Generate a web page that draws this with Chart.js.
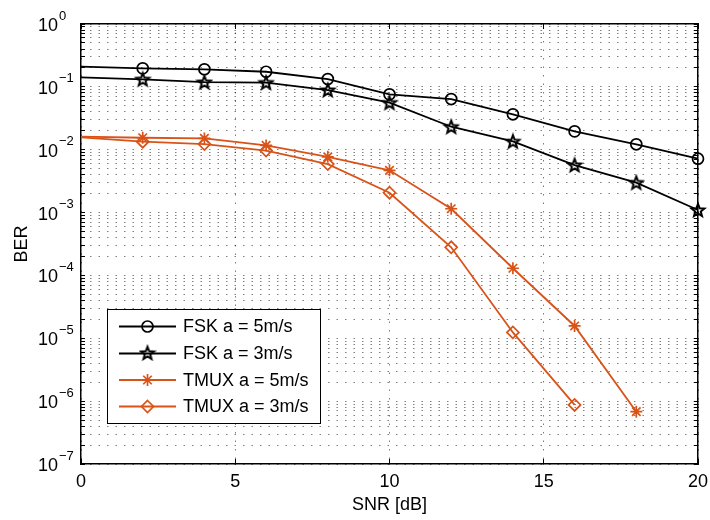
<!DOCTYPE html>
<html>
<head>
<meta charset="utf-8">
<script src="https://cdn.jsdelivr.net/npm/chart.js@4/dist/chart.umd.min.js"></script>
<style>
  html, body { margin: 0; padding: 0; background: #fff; }
  #wrap { width: 710px; height: 520px; position: relative; }
</style>
</head>
<body>
<div id="wrap"><canvas id="c"></canvas></div>
<script>
// ---- data ----
const snr = [0, 2, 4, 6, 8, 10, 12, 14, 16, 18, 20];
const fsk5 = [0.21, 0.197, 0.19, 0.174, 0.133, 0.076, 0.064, 0.0366, 0.0196, 0.0122, 0.0072];
const fsk3 = [0.142, 0.132, 0.119, 0.117, 0.089, 0.056, 0.0232, 0.0136, 0.0057, 0.0030, 0.0011];
const tmux5 = [0.0161, 0.0155, 0.0151, 0.0117, 0.0077, 0.0047, 0.00115, 0.00013, 1.57e-5, 6.8e-7];
const tmux3 = [0.0157, 0.0134, 0.0123, 0.0097, 0.0059, 0.00207, 0.00028, 1.24e-5, 8.7e-7];
const seriesLabels = ['FSK a = 5m/s', 'FSK a = 3m/s', 'TMUX a = 5m/s', 'TMUX a = 3m/s'];
const xTicks = [0, 5, 10, 15, 20];
const yDecades = [-7, -6, -5, -4, -3, -2, -1, 0];
const yMinor = [1, 2, 3, 4, 5, 6, 7, 8, 9];

const FONT = '"Liberation Sans", Arial, Helvetica, sans-serif';
const ORANGE = '#D95319';
const GRID = 'rgba(0,0,0,0.5)';

// y tick values built from decade list
const yTickValues = [];
yDecades.forEach(d => {
  if (d === 0) { yTickValues.push(1); return; }
  yMinor.forEach(m => yTickValues.push(Number((m * Math.pow(10, d)).toPrecision(6))));
});

// pentagram marker
function makePentagram(color) {
  const c = document.createElement('canvas');
  c.width = 18; c.height = 18;
  const g = c.getContext('2d');
  const R = 6.8, r = 2.9, cx = 9, cy = 9.6;
  g.beginPath();
  for (let i = 0; i < 10; i++) {
    const rad = (i % 2 === 0) ? R : r;
    const a = -Math.PI / 2 + i * Math.PI / 5;
    const px = cx + rad * Math.cos(a), py = cy + rad * Math.sin(a);
    if (i === 0) g.moveTo(px, py); else g.lineTo(px, py);
  }
  g.closePath();
  g.lineWidth = 2;
  g.strokeStyle = color;
  g.lineJoin = 'miter';
  g.stroke();
  return c;
}
const pent = makePentagram('#000');

function pts(vals) { return vals.map((v, i) => ({ x: snr[i], y: v })); }
function radii(n, r) { return Array.from({ length: n }, (_, i) => i === 0 ? 0 : r); }

const datasets = [
  { label: seriesLabels[0], data: pts(fsk5), borderColor: '#000', backgroundColor: 'rgba(0,0,0,0)',
    pointStyle: 'circle', pointRadius: radii(fsk5.length, 5.5), pointBorderColor: '#000', pointBorderWidth: 1.7 },
  { label: seriesLabels[1], data: pts(fsk3), borderColor: '#000', backgroundColor: 'rgba(0,0,0,0)',
    pointStyle: pent, pointRadius: radii(fsk3.length, 6), pointBorderColor: '#000', pointBorderWidth: 1.7 },
  { label: seriesLabels[2], data: pts(tmux5), borderColor: ORANGE, backgroundColor: 'rgba(0,0,0,0)',
    pointStyle: 'star', pointRadius: radii(tmux5.length, 6), pointBorderColor: ORANGE, pointBorderWidth: 1.7 },
  { label: seriesLabels[3], data: pts(tmux3), borderColor: ORANGE, backgroundColor: 'rgba(0,0,0,0)',
    pointStyle: 'rectRot', pointRadius: radii(tmux3.length, 6), pointBorderColor: ORANGE, pointBorderWidth: 1.7 },
];
datasets.forEach(d => { d.borderWidth = 1.8; d.tension = 0; d.clip = false; d.fill = false; d.pointHoverRadius = 0; });

// plugin: white background, y log labels 10^n, legend inside
const customDraw = {
  id: 'customDraw',
  beforeDraw(chart) {
    const ctx = chart.ctx;
    ctx.save();
    ctx.fillStyle = '#fff';
    ctx.fillRect(0, 0, chart.width, chart.height);
    ctx.restore();
  },
  afterDraw(chart) {
    const ctx = chart.ctx;
    const ys = chart.scales.y;
    ctx.save();
    ctx.fillStyle = '#000';
    yDecades.forEach(d => {
      const py = ys.getPixelForValue(Math.pow(10, d));
      ctx.font = '18px ' + FONT;
      ctx.textAlign = 'right';
      ctx.textBaseline = 'middle';
      ctx.fillText('10', 58, py + 2);
      ctx.font = '13px ' + FONT;
      ctx.textAlign = 'left';
      ctx.fillText(d < 0 ? '\u2212' + (-d) : String(d), 59, py - 8);
    });
    // legend
    const bx = 107.5, by = 309.5, bw = 213, bh = 114;
    ctx.fillStyle = '#fff';
    ctx.fillRect(bx, by, bw, bh);
    ctx.strokeStyle = '#000';
    ctx.lineWidth = 1;
    ctx.strokeRect(bx, by, bw, bh);
    const rowY = [326.5, 353.5, 380, 406.5];
    chart.data.datasets.forEach((ds, i) => {
      const y = rowY[i];
      ctx.strokeStyle = ds.borderColor;
      ctx.lineWidth = 1.8;
      ctx.beginPath(); ctx.moveTo(119, y); ctx.lineTo(176, y); ctx.stroke();
      const mx = 147.5;
      ctx.lineWidth = 1.7;
      ctx.beginPath();
      if (i === 0) {
        ctx.arc(mx, y, 5.5, 0, Math.PI * 2); ctx.stroke();
      } else if (i === 1) {
        ctx.drawImage(pent, mx - 9, y - 9.6);
      } else if (i === 2) {
        const r = 6;
        for (let k = 0; k < 4; k++) {
          const a = k * Math.PI / 4;
          ctx.moveTo(mx - r * Math.cos(a), y - r * Math.sin(a));
          ctx.lineTo(mx + r * Math.cos(a), y + r * Math.sin(a));
        }
        ctx.stroke();
      } else {
        const r = 6;
        ctx.moveTo(mx, y - r); ctx.lineTo(mx + r, y); ctx.lineTo(mx, y + r); ctx.lineTo(mx - r, y); ctx.closePath();
        ctx.stroke();
      }
      ctx.fillStyle = '#000';
      ctx.font = '18px ' + FONT;
      ctx.textAlign = 'left';
      ctx.textBaseline = 'middle';
      ctx.fillText(ds.label, 183, y + 1);
    });
    ctx.restore();
  }
};

function setYTicks(scale) { scale.ticks = yTickValues.map(v => ({ value: v })); }
function setXTicks(scale) { scale.ticks = xTicks.map(v => ({ value: v })); }
function noPad(s) { s.paddingLeft = 0; s.paddingRight = 0; s.paddingTop = 0; s.paddingBottom = 0; }

new Chart(document.getElementById('c'), {
  type: 'line',
  data: { datasets },
  plugins: [customDraw],
  options: {
    responsive: true,
    maintainAspectRatio: false,
    animation: false,
    events: [],
    layout: { padding: { top: 24, right: 12, bottom: 0, left: 0 } },
    plugins: { legend: { display: false }, tooltip: { enabled: false } },
    scales: {
      x: {
        type: 'linear', position: 'bottom', min: 0, max: 20,
        afterBuildTicks: setXTicks,
        afterFit: s => { s.height = 56; noPad(s); },
        ticks: { color: '#000', font: { family: FONT, size: 18 }, padding: 12, maxRotation: 0 },
        grid: { color: GRID, lineWidth: 1, drawTicks: true, tickLength: -5, tickColor: '#000', tickWidth: 1 },
        border: { display: true, color: '#000', width: 1.5, dash: [1.5, 7] },
        title: { display: true, text: 'SNR [dB]', color: '#000', font: { family: FONT, size: 18 }, padding: { top: 4, bottom: 4 } }
      },
      xTop: {
        type: 'linear', position: 'top', min: 0, max: 20,
        afterBuildTicks: setXTicks,
        afterFit: s => { s.height = 0; noPad(s); },
        ticks: { display: false },
        grid: { drawOnChartArea: false, drawTicks: true, tickLength: -5, tickColor: '#000', tickWidth: 1 },
        border: { display: true, color: '#000', width: 1.5 }
      },
      y: {
        type: 'logarithmic', position: 'left', min: 1e-7, max: 1,
        afterBuildTicks: setYTicks,
        afterFit: s => { s.width = 81; noPad(s); },
        ticks: { display: false },
        grid: { color: GRID, lineWidth: 1, drawTicks: true, tickLength: -4, tickColor: '#000', tickWidth: 1 },
        border: { display: true, color: '#000', width: 1.5, dash: [1.5, 7] },
        title: { display: true, text: 'BER', color: '#000', font: { family: FONT, size: 18 }, padding: { top: 11, bottom: 4 } }
      },
      yRight: {
        type: 'logarithmic', position: 'right', min: 1e-7, max: 1,
        afterBuildTicks: setYTicks,
        afterFit: s => { s.width = 0; noPad(s); },
        ticks: { display: false },
        grid: { drawOnChartArea: false, drawTicks: true, tickLength: -4, tickColor: '#000', tickWidth: 1 },
        border: { display: true, color: '#000', width: 1.5 }
      }
    }
  }
});
</script>
</body>
</html>
